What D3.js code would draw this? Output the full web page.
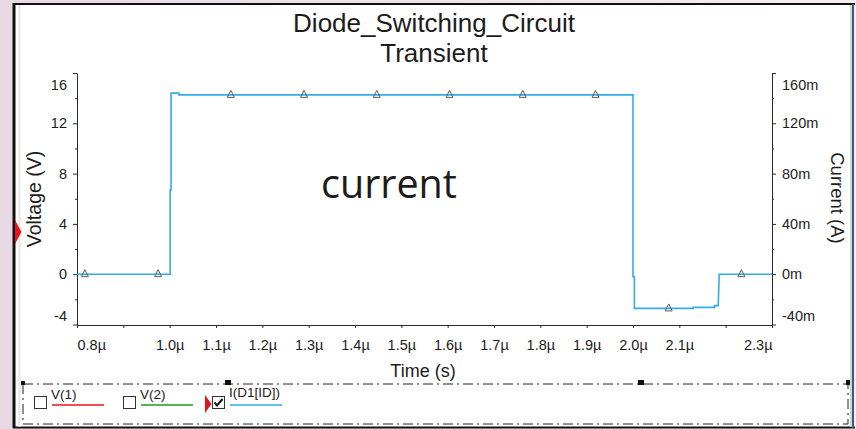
<!DOCTYPE html>
<html>
<head>
<meta charset="utf-8">
<script src="https://cdn.jsdelivr.net/npm/d3@7"></script>
<style>
html, body { margin: 0; padding: 0; overflow: hidden; background: #f1e7ed; }
svg { display: block; }
text { font-family: "Liberation Sans", Arial, sans-serif; fill: #1c1c1c; }
</style>
</head>
<body>
<svg id="chart"></svg>
<script>
const width = 856, height = 429;

// chart text
const titleLines = ["Diode_Switching_Circuit", "Transient"];
const xTitle = "Time (s)";
const yLeftTitle = "Voltage (V)";
const yRightTitle = "Current (A)";
const noteText = "current";

// I(D1[ID]) trace (time in µs, current in mA)
const timeUs    = [0.8, 1.001, 1.001, 1.003, 1.003, 1.020, 1.020, 2.000, 2.000, 2.003, 2.003, 2.130, 2.130, 2.176, 2.176, 2.184, 2.186, 2.3];
const currentmA = [0,   0,     67,    67,    144,   144,   142.6, 142.6, -2,    -2,    -27.2, -27.2, -26.4, -26.4, -25,   -25,   0,     0];

// triangle markers on the trace
const markerTimes  = [0.817, 0.975, 1.132, 1.290, 1.447, 1.604, 1.762, 1.919, 2.077, 2.234];
const markerValues = [0, 0, 142.6, 142.6, 142.6, 142.6, 142.6, 142.6, -27.2, 0];

// ticks
const xTicks      = [0.8, 0.9, 1.0, 1.1, 1.2, 1.3, 1.4, 1.5, 1.6, 1.7, 1.8, 1.9, 2.0, 2.1, 2.2, 2.3];
const xTickLabels = ["0.8µ", "", "1.0µ", "1.1µ", "1.2µ", "1.3µ", "1.4µ", "1.5µ", "1.6µ", "1.7µ", "1.8µ", "1.9µ", "2.0µ", "2.1µ", "", "2.3µ"];
const voltTicks   = [-4, 0, 4, 8, 12, 16];
const voltLabels  = ["-4", "0", "4", "8", "12", "16"];
const voltMinor   = [-2, 2, 6, 10, 14];
const currTicks   = [-40, 0, 40, 80, 120, 160];
const currMinor   = [-20, 20, 60, 100, 140];
const currLabels  = ["-40m", "0m", "40m", "80m", "120m", "160m"];

// legend
const legendNames   = ["V(1)", "V(2)", "I(D1[ID])"];
const legendColors  = ["#e8141c", "#1a9e1a", "#35abe6"];
const legendChecked = [false, false, true];

const traceColor = "#35abe6";
const plot = { left: 77, right: 772, top: 73, bottom: 324.5 };

const svg = d3.select("svg#chart").attr("width", width).attr("height", height);

// window background + panel
const bg = svg.append("defs").append("linearGradient").attr("id", "bg")
	.attr("x1", 0).attr("y1", 0).attr("x2", 1).attr("y2", 0);
bg.append("stop").attr("offset", 0).attr("stop-color", "#e9d9e5");
bg.append("stop").attr("offset", 1).attr("stop-color", "#f4eef2");
svg.append("rect").attr("width", width).attr("height", height).attr("fill", "url(#bg)");

svg.append("rect").attr("x", 13).attr("y", 4).attr("width", 839).attr("height", 423).attr("fill", "#fff");
svg.append("line").attr("x1", 14).attr("x2", 14).attr("y1", 3).attr("y2", 428).attr("stroke", "#111").attr("stroke-width", 3);
svg.append("line").attr("x1", 13).attr("x2", 855).attr("y1", 4).attr("y2", 4).attr("stroke", "#111").attr("stroke-width", 2);
svg.append("line").attr("x1", 13).attr("x2", 855).attr("y1", 427.5).attr("y2", 427.5).attr("stroke", "#111").attr("stroke-width", 2);
svg.append("line").attr("x1", 19.5).attr("x2", 19.5).attr("y1", 5).attr("y2", 427).attr("stroke", "#e6e6e6").attr("stroke-width", 2);
svg.append("line").attr("x1", 851).attr("x2", 851).attr("y1", 5).attr("y2", 427).attr("stroke", "#d4d4d4").attr("stroke-width", 2);
svg.append("line").attr("x1", 853).attr("x2", 853).attr("y1", 4).attr("y2", 428).attr("stroke", "#3d5a7e").attr("stroke-width", 2);

// scales
const x  = d3.scaleLinear().domain([0.8, 2.3]).range([plot.left, plot.right]);
const yV = d3.scaleLinear().domain([-4, 16]).range([plot.bottom, plot.top]);
const yI = d3.scaleLinear().domain([-40, 160]).range([plot.bottom, plot.top]);

function styleAxis(g) {
	g.selectAll("path, line").attr("stroke", "#2a2a2a");
	g.selectAll("text").attr("font-size", 14.5).attr("fill", "#1c1c1c")
		.attr("font-family", '"Liberation Sans", Arial, sans-serif');
}

// left axis
const gL = svg.append("g").attr("transform", `translate(${plot.left},0)`)
	.call(d3.axisLeft(yV).tickValues(voltTicks).tickSize(4).tickSizeOuter(0).tickPadding(6)
		.tickFormat((d, i) => voltLabels[i]))
	.call(styleAxis);
gL.selectAll(".tick text").filter(d => d === 16).attr("dy", "1.15em");
gL.selectAll(".tick text").filter(d => d === -4).attr("dy", "-0.25em");
svg.append("g").attr("transform", `translate(${plot.left},0)`)
	.call(d3.axisLeft(yV).tickValues(voltMinor).tickSize(2).tickFormat(""))
	.call(g => g.select(".domain").remove()).call(styleAxis);

// right axis
const gR = svg.append("g").attr("transform", `translate(${plot.right},0)`)
	.call(d3.axisRight(yI).tickValues(currTicks).tickSize(4).tickSizeOuter(0).tickPadding(6)
		.tickFormat((d, i) => currLabels[i]))
	.call(styleAxis);
gR.selectAll(".tick text").filter(d => d === 160).attr("dy", "1.15em");
gR.selectAll(".tick text").filter(d => d === -40).attr("dy", "-0.25em");
svg.append("g").attr("transform", `translate(${plot.right},0)`)
	.call(d3.axisRight(yI).tickValues(currMinor).tickSize(2).tickFormat(""))
	.call(g => g.select(".domain").remove()).call(styleAxis);

// bottom axis
const gX = svg.append("g").attr("transform", `translate(0,${plot.bottom + 0.5})`)
	.call(d3.axisBottom(x).tickValues(xTicks).tickSize(3).tickSizeOuter(0).tickPadding(12)
		.tickFormat((d, i) => xTickLabels[i]))
	.call(styleAxis);
gX.selectAll(".tick text").filter(d => d === 0.8).attr("text-anchor", "start");
gX.selectAll(".tick text").filter(d => d === 2.3).attr("text-anchor", "end");

// titles
svg.append("g").selectAll("text").data(titleLines).join("text")
	.attr("x", 434).attr("y", (d, i) => 32 + i * 30)
	.attr("text-anchor", "middle").attr("font-size", 26).text(d => d);
svg.append("text").attr("x", 423).attr("y", 377).attr("text-anchor", "middle")
	.attr("font-size", 18).text(xTitle);
svg.append("text").attr("transform", "translate(41,199) rotate(-90)").attr("text-anchor", "middle")
	.attr("font-size", 19.5).text(yLeftTitle);
svg.append("text").attr("transform", "translate(831,198) rotate(90)").attr("text-anchor", "middle")
	.attr("font-size", 18.5).text(yRightTitle);

// annotation
svg.append("text").attr("x", 321).attr("y", 198).attr("font-size", 39.5)
	.style("font-family", '"Open Sans", sans-serif').attr("fill", "#111").text(noteText);

// trace
const trace = timeUs.map((t, i) => [t, currentmA[i]]);
svg.append("path").datum(trace)
	.attr("fill", "none").attr("stroke", traceColor).attr("stroke-width", 1.6)
	.attr("d", d3.line().x(d => x(d[0])).y(d => yI(d[1])));

svg.append("g").selectAll("path").data(markerTimes).join("path")
	.attr("transform", (d, i) => `translate(${x(d)},${yI(markerValues[i])})`)
	.attr("d", "M0,-4.5L3.5,2.5L-3.5,2.5Z")
	.attr("fill", "none").attr("stroke", "#5a5a5a").attr("stroke-width", 1);

// active-trace marker on the frame
svg.append("path").attr("d", "M15,220L21.5,232L15,244Z").attr("fill", "#e8141c");

// legend box
svg.append("rect").attr("x", 23).attr("y", 384).attr("width", 825).attr("height", 40)
	.attr("fill", "none").attr("stroke", "#222").attr("stroke-width", 1)
	.attr("stroke-dasharray", "10,4,2,4");
svg.append("g").selectAll("rect").data([[21, 381, 4, 4], [225, 380, 6, 5], [638, 380, 6, 5], [846, 380, 4, 5]]).join("rect")
	.attr("x", d => d[0]).attr("y", d => d[1]).attr("width", d => d[2]).attr("height", d => d[3]).attr("fill", "#111");

const legendX = [34, 123, 212];
const legItem = svg.append("g").selectAll("g").data(legendNames).join("g")
	.attr("transform", (d, i) => `translate(${legendX[i]},396)`);
legItem.append("rect").attr("x", 0.5).attr("y", 0.5).attr("width", 12).attr("height", 12)
	.attr("fill", "#fff").attr("stroke", "#333").attr("stroke-width", 1);
legItem.filter((d, i) => legendChecked[i]).append("path")
	.attr("d", "M2.5,6.5L5,9.5L10.5,3").attr("fill", "none").attr("stroke", "#111").attr("stroke-width", 2);
legItem.append("text").attr("x", 17).attr("y", (d, i) => legendChecked[i] ? 1 : 3)
	.attr("font-size", 13.5).attr("fill", "#2f3a5c").text(d => d);
legItem.append("line").attr("x1", 18).attr("x2", 70).attr("y1", 9).attr("y2", 9)
	.attr("stroke", (d, i) => legendColors[i]).attr("stroke-width", 1.5);
svg.append("path").attr("d", "M205,395L211.5,404L205,413Z").attr("fill", "#e8141c");
</script>
</body>
</html>
